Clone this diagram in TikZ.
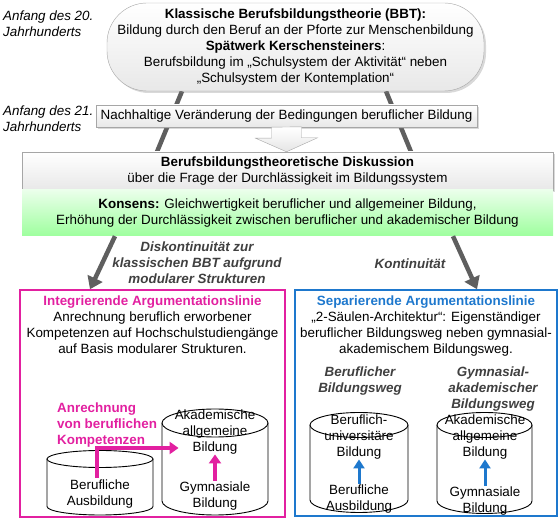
\documentclass[tikz,border=0pt]{standalone}
\usepackage{fontspec}
\setmainfont{Liberation Sans}
\usepackage{xcolor}
\usetikzlibrary{positioning,arrows.meta,shadows,backgrounds}

\definecolor{argpink}{RGB}{226,32,160}
\definecolor{argblue}{RGB}{30,120,205}
\definecolor{darkg}{RGB}{64,64,64}
\definecolor{arrowgray}{RGB}{95,95,95}

\newcommand{\fs}{\fontsize{13.4}{16}\selectfont}
\newcommand{\saeule}[5]{%
   \filldraw[cylline] (#1,#3) -- (#1,#4) arc[start angle=180,end angle=360,x radius={(#2-#1)/2},y radius=#5] -- (#2,#3);
   \draw[cylline] ({(#1+#2)/2},#3) ellipse[x radius={(#2-#1)/2},y radius=#5];}

\begin{document}
\begin{tikzpicture}[x=1pt,y=1pt,font=\fs,
   graybox/.style={draw=gray!70,top color=white,bottom color=gray!18,
      drop shadow={opacity=0.3,shadow xshift=2pt,shadow yshift=-2pt},align=center,inner sep=0pt},
   konsbox/.style={top color=green!8,bottom color=green!38,align=center,inner sep=0pt},
   stem/.style={draw=arrowgray,line width=4.5pt},
   downarrow/.style={draw=arrowgray,line width=4.5pt,-{Triangle[width=16pt,length=12pt]}},
   era/.style={font=\fs\itshape,align=left,anchor=west,inner sep=0pt},
   remark/.style={font=\fs\bfseries\itshape,text=darkg,align=center},
   argbox/.style={draw=#1,line width=1.5pt,minimum width=265pt,minimum height=227pt},
   cylline/.style={draw=black,line width=0.9pt,fill=white},
   cyltext/.style={align=center,inner sep=0pt},
   pinkarrow/.style={draw=argpink,line width=3.5pt,-{Triangle[width=12pt,length=9pt]}},
   bluearrow/.style={draw=argblue,line width=3pt,-{Triangle[width=11pt,length=9pt]}}]
         \useasboundingbox (0,0) rectangle (560,522);

         \node[graybox,rounded corners=40pt,minimum width=377pt,minimum height=88pt,name=bbt] at (295.5,475)
            {\textbf{Klassische Berufsbildungstheorie (BBT):}\\Bildung durch den Beruf an der Pforte zur Menschenbildung\\
             \textbf{Spätwerk Kerschensteiners}:\\Berufsbildung im „Schulsystem der Aktivität“ neben\\„Schulsystem der Kontemplation“};
         \node[graybox,minimum width=381pt,minimum height=22pt,name=nachh] at (286.5,406)
            {Nachhaltige Veränderung der Bedingungen beruflicher Bildung};
         \node[graybox,minimum width=531pt,minimum height=38pt,name=disk] at (287.5,351)
            {\textbf{Berufsbildungstheoretische Diskussion}\\über die Frage der Durchlässigkeit im Bildungssystem};
         \node[konsbox,minimum width=531pt,minimum height=46pt,name=kons] at (287.5,309)
            {\textbf{Konsens:} Gleichwertigkeit beruflicher und allgemeiner Bildung,\\Erhöhung der Durchlässigkeit zwischen beruflicher und akademischer Bildung};

         \node[era,name=era20] at (3,498) {Anfang des 20.\\Jahrhunderts};
         \node[era,name=era21] at (3,403.5) {Anfang des 21.\\Jahrhunderts};

         \node[remark,name=diskont] at (197,259) {Diskontinuität zur\\klassischen BBT aufgrund\\modularer Strukturen};
         \node[remark,name=kontin] at (410,258) {Kontinuität};

         \node[argbox=argpink,name=integ] at (152.5,118.5) {};
         \node[argbox=argblue,minimum width=262pt,minimum height=226pt,name=sep] at (426,119) {};
         \node[cyltext,below=6pt of integ.north,name=integtxt]
            {\textcolor{argpink}{\textbf{Integrierende Argumentationslinie}}\\Anrechnung beruflich erworbener\\
             Kompetenzen auf Hochschulstudiengänge\\auf Basis modularer Strukturen.};
         \node[cyltext,below=6pt of sep.north,name=septxt]
            {\textcolor{argblue}{\textbf{Separierende Argumentationslinie}}\\„2-Säulen-Architektur“: Eigenständiger\\
             beruflicher Bildungsweg neben gymnasial-\\akademischem Bildungsweg.};

         \saeule{47}{153}{63}{15.5}{8.5}
         \saeule{162}{268}{99}{21}{14}
         \saeule{310}{408}{97}{22}{12.5}
         \saeule{437}{532}{97}{21}{12.5}

         \node[cyltext,name=berA] at (100,28) {Berufliche\\Ausbildung};
         \node[cyltext,name=akadA] at (215,90) {Akademische\\allgemeine\\Bildung};
         \node[cyltext,name=gymA] at (215,25.5) {Gymnasiale\\Bildung};
         \node[font=\fs\bfseries,text=argpink,align=left,anchor=west,inner sep=0pt,name=anrech] at (57,97)
            {Anrechnung\\von beruflichen\\Kompetenzen};

         \node[remark,anchor=north,inner sep=0pt,name=headC] at (360,155) {Beruflicher\\Bildungsweg};
         \node[remark,anchor=north,inner sep=0pt,name=headD] at (493,155) {Gymnasial-\\akademischer\\Bildungsweg};
         \node[cyltext,name=uniC] at (359,85) {Beruflich-\\universitäre\\Bildung};
         \node[cyltext,name=berC] at (359,23) {Berufliche\\Ausbildung};
         \node[cyltext,name=akadD] at (485,85) {Akademische\\allgemeine\\Bildung};
         \node[cyltext,name=gymD] at (485,20.5) {Gymnasiale\\Bildung};

         \begin{scope}[on background layer]
         \path ([xshift=-113.5pt]bbt.south) edge[stem] ([xshift=-130.5pt]disk.north)
               ([xshift=90.5pt]bbt.south)   edge[stem] ([xshift=123.5pt]disk.north);
         \end{scope}

         \draw[draw=gray!70,top color=white,bottom color=gray!20] ([xshift=-15pt]nachh.south) -- ++(0,-11) -- ++(-16,0)
            -- (nachh.south |- disk.north) -- ++(31,14) -- ++(-16,0) -- ++(0,11) -- cycle;

         \path ([xshift=-172.5pt]kons.south) edge[downarrow] ([xshift=-62.5pt]integ.north)
               ([xshift=165.5pt]kons.south)  edge[downarrow] ([xshift=51pt]sep.north);

         \path ([xshift=-3pt,yshift=2pt]berA.north) edge[pinkarrow,to path={|- (\tikztotarget)}] ([xshift=4pt,yshift=-16pt]akadA.west)
               ([yshift=1pt]gymA.north)  edge[pinkarrow] (akadA.south)
               ([yshift=1pt]berC.north)  edge[bluearrow] (uniC.south)
               ([yshift=1pt]gymD.north)  edge[bluearrow] (akadD.south);
      \end{tikzpicture}
\end{document}
